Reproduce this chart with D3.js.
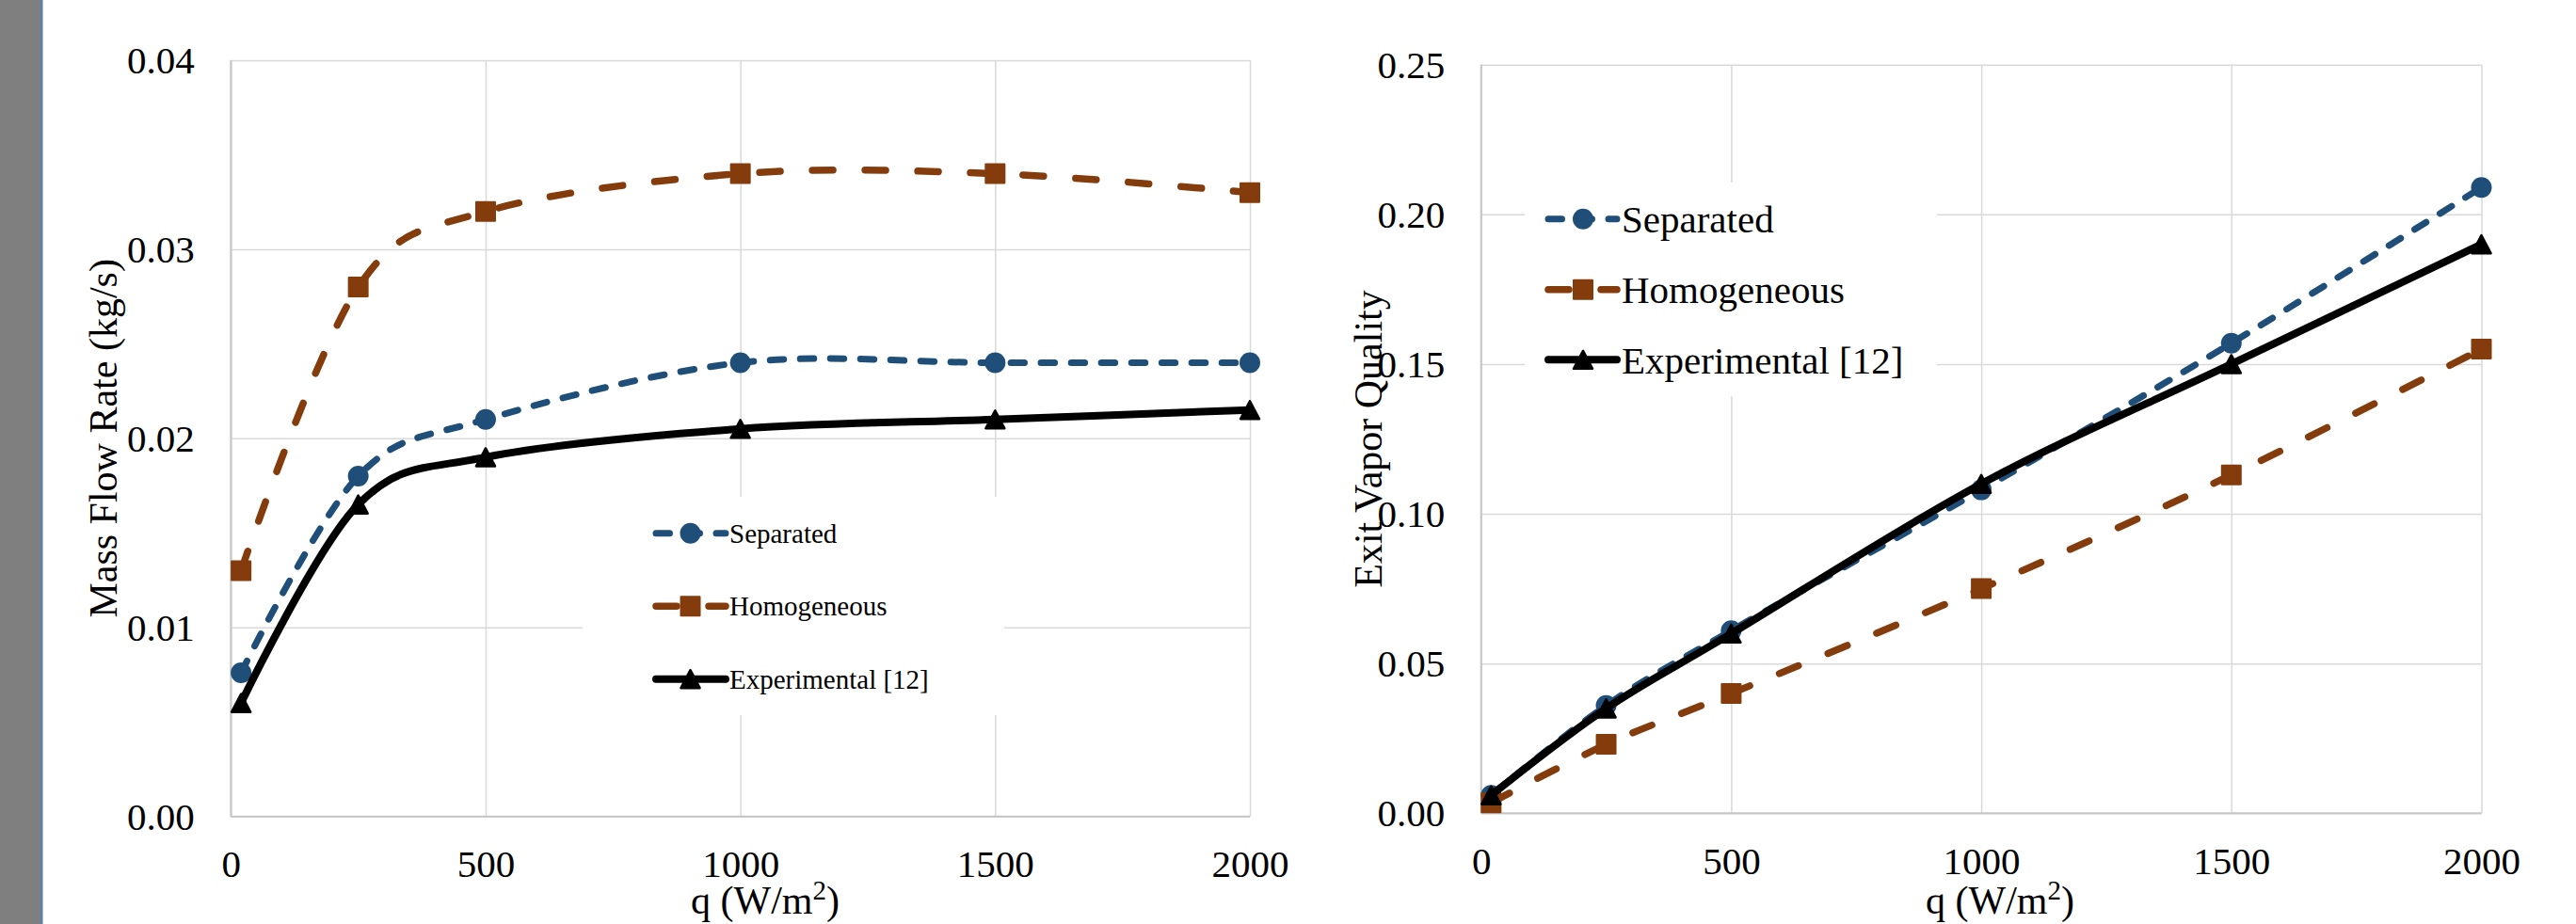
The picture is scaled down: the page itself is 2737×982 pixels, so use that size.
<!DOCTYPE html>
<html><head><meta charset="utf-8">
<script src="https://cdn.jsdelivr.net/npm/d3@7"></script>
<style>
body{margin:0;background:#fff;}
svg{display:block;}
text{font-family:"Liberation Serif","Times New Roman",serif;fill:#000;}
</style>
</head><body>
<svg id="c" width="2737" height="982"></svg>
<script>
// ---------- data ----------
const qValues = [20, 250, 500, 1000, 1500, 2000];
const xTicks = [0, 500, 1000, 1500, 2000];
const seriesNames = ["Separated", "Homogeneous", "Experimental [12]"];

const massTicks = [0, 0.01, 0.02, 0.03, 0.04];
const massSeparated = [0.0076, 0.018, 0.021, 0.024, 0.024, 0.024];
const massHomogeneous = [0.013, 0.028, 0.032, 0.034, 0.034, 0.033];
const massExperimental = [0.006, 0.0165, 0.019, 0.0205, 0.021, 0.0215];

const qualTicks = [0, 0.05, 0.10, 0.15, 0.20, 0.25];
const qualSeparated = [0.006, 0.036, 0.061, 0.108, 0.157, 0.209];
const qualHomogeneous = [0.0035, 0.023, 0.040, 0.075, 0.113, 0.155];
const qualExperimental = [0.006, 0.035, 0.060, 0.110, 0.150, 0.190];

// ---------- styles ----------
const styles = [
  {color: "#1F4E79", dash: "14.5,17.5", width: 7, marker: "circle"},
  {color: "#843C0C", dash: "22,34", width: 7.5, marker: "square"},
  {color: "#000000", dash: null, width: 8, marker: "triangle"}
];

const svg = d3.select("#c");
svg.append("rect").attr("width", 2737).attr("height", 982).attr("fill", "#fff");
svg.append("rect").attr("x", 0).attr("y", 0).attr("width", 43).attr("height", 982).attr("fill", "#7F7F7F");
svg.append("rect").attr("x", 43).attr("y", 0).attr("width", 2.5).attr("height", 982).attr("fill", "#5B80AE");

function drawMarker(g, type, cx, cy, color) {
  if (type === "circle") {
    g.append("circle").attr("cx", cx).attr("cy", cy).attr("r", 11).attr("fill", color);
  } else if (type === "square") {
    g.append("rect").attr("x", cx - 10).attr("y", cy - 10).attr("width", 20).attr("height", 20)
      .attr("fill", color).attr("stroke", color).attr("stroke-width", 2).attr("stroke-linejoin", "round");
  } else {
    g.append("path").attr("d", `M${cx},${cy - 9.5}L${cx - 10},${cy + 9.5}L${cx + 10},${cy + 9.5}Z`)
      .attr("fill", color).attr("stroke", color).attr("stroke-width", 2.5).attr("stroke-linejoin", "round");
  }
}

function drawChart(cfg) {
  const x = d3.scaleLinear().domain([0, 2000]).range([cfg.left, cfg.right]);
  const y = d3.scaleLinear().domain([0, cfg.yMax]).range([cfg.bottom, cfg.top]);
  const g = svg.append("g");
  const w = cfg.right - cfg.left, h = cfg.bottom - cfg.top;

  const yAxis = d3.axisLeft(y).tickValues(cfg.yTicks).tickFormat(d3.format(".2f"))
    .tickSize(-w).tickPadding(38.5);
  const gy = g.append("g").attr("transform", `translate(${cfg.left},0)`).call(yAxis);
  gy.select(".domain").remove();
  gy.selectAll("line").attr("stroke", "#D9D9D9").attr("stroke-width", 1.5);
  gy.selectAll("text").attr("font-size", 41).attr("dy", "0.33em");

  const xAxis = d3.axisBottom(x).tickValues(xTicks).tickFormat(d3.format("d"))
    .tickSize(-h).tickPadding(0);
  const gx = g.append("g").attr("transform", `translate(0,${cfg.bottom})`).call(xAxis);
  gx.select(".domain").remove();
  gx.selectAll("line").attr("stroke", "#D9D9D9").attr("stroke-width", 1.5);
  gx.selectAll("text").attr("font-size", 41).attr("y", 64.5).attr("dy", 0);

  // axis lines
  g.append("line").attr("x1", cfg.left).attr("x2", cfg.left).attr("y1", cfg.top).attr("y2", cfg.bottom)
    .attr("stroke", "#C6C6C6").attr("stroke-width", 2);
  g.append("line").attr("x1", cfg.left).attr("x2", cfg.right).attr("y1", cfg.bottom).attr("y2", cfg.bottom)
    .attr("stroke", "#C6C6C6").attr("stroke-width", 2);

  // series
  const line = d3.line().x(d => x(d[0])).y(d => y(d[1])).curve(d3.curveCatmullRom.alpha(0));
  cfg.data.forEach((vals, i) => {
    const st = styles[i];
    const pts = qValues.map((q, k) => [q, vals[k]]);
    g.append("path").attr("d", line(pts)).attr("fill", "none").attr("stroke", st.color)
      .attr("stroke-width", st.width).attr("stroke-linecap", "round").attr("stroke-linejoin", "round")
      .attr("stroke-dasharray", st.dash);
    const mg = g.append("g");
    pts.forEach(p => drawMarker(mg, st.marker, x(p[0]), y(p[1]), st.color));
  });

  // legend
  const L = cfg.legend;
  const lg = g.append("g");
  lg.append("rect").attr("x", L.x).attr("y", L.y).attr("width", L.w).attr("height", L.h).attr("fill", "#fff");
  seriesNames.forEach((name, i) => {
    const st = styles[i];
    const cy = L.rows[i];
    lg.append("line").attr("x1", L.lineX0).attr("x2", L.lineX1).attr("y1", cy).attr("y2", cy)
      .attr("stroke", st.color).attr("stroke-width", st.width).attr("stroke-linecap", "round")
      .attr("stroke-dasharray", st.dash);
    drawMarker(lg, st.marker, L.markerX, cy, st.color);
    lg.append("text").attr("x", L.textX).attr("y", cy + L.baseOff).attr("font-size", L.fontSize).text(name);
  });

  // titles
  g.append("text").attr("transform", `translate(${cfg.yTitleX},${(cfg.top + cfg.bottom) / 2}) rotate(-90)`)
    .attr("text-anchor", "middle").attr("font-size", 42).text(cfg.yTitle);
  const xt = g.append("text").attr("x", cfg.xTitleX).attr("y", 971).attr("text-anchor", "middle").attr("font-size", 42);
  xt.append("tspan").text("q (W/m");
  xt.append("tspan").attr("font-size", 29).attr("dy", -15).text("2");
  xt.append("tspan").attr("dy", 15).text(")");
}

drawChart({
  left: 245.3, right: 1328, top: 64, bottom: 867.7, yMax: 0.04, yTicks: massTicks,
  data: [massSeparated, massHomogeneous, massExperimental],
  yTitle: "Mass Flow Rate (kg/s)", yTitleX: 123.5, xTitleX: 813,
  legend: {x: 619, y: 528, w: 448, h: 232, lineX0: 697, lineX1: 771, markerX: 733.5, textX: 775,
           rows: [566.7, 644.3, 721.7], fontSize: 29, baseOff: 10}
});

drawChart({
  left: 1573.7, right: 2636.5, top: 68.7, bottom: 864.3, yMax: 0.25, yTicks: qualTicks,
  data: [qualSeparated, qualHomogeneous, qualExperimental],
  yTitle: "Exit Vapor Quality", yTitleX: 1467.5, xTitleX: 2125,
  legend: {x: 1620, y: 194, w: 438, h: 227, lineX0: 1645, lineX1: 1718, markerX: 1682, textX: 1723,
           rows: [232.7, 307.7, 382.3], fontSize: 41, baseOff: 14.5}
});
</script>
</body></html>
